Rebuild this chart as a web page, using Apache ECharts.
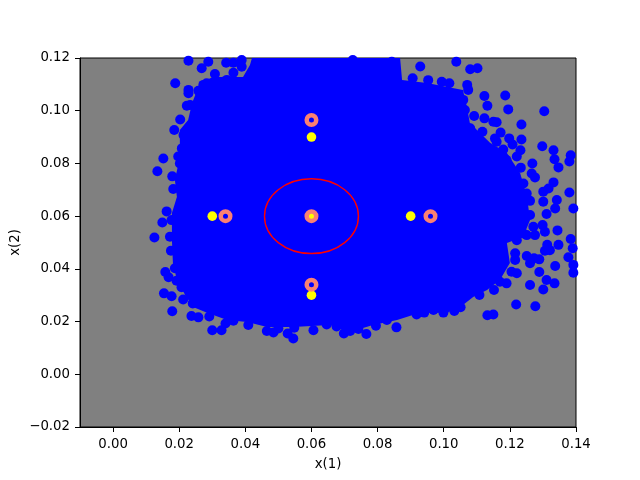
<!DOCTYPE html>
<html>
<head>
<meta charset="utf-8">
<style>html,body{margin:0;padding:0;background:#fff}#c{width:640px;height:480px}</style>
<script src="https://cdn.jsdelivr.net/npm/echarts@6/dist/echarts.min.js"></script>
</head>
<body>
<div id="c"></div>
<script>
var xTicks = [0, 0.02, 0.04, 0.06, 0.08, 0.10, 0.12, 0.14];
var yTicks = [-0.02, 0, 0.02, 0.04, 0.06, 0.08, 0.10, 0.12];
var denseCoreOutline = [
[.0420,.12],[.0868,.12],[.0874,.1117],[.0949,.1105],[.1058,.1079],[.1070,.1014],[.1079,.0953],[.1140,.0878],
[.1191,.0840],[.1231,.0764],[.1252,.0673],[.1261,.0585],[.1240,.0521],[.1191,.0498],[.1200,.0422],[.1170,.0358],
[.1131,.0320],[.1089,.0293],[.1058,.0263],[.1010,.0233],[.0928,.0233],[.0859,.0206],[.0786,.0187],[.0756,.0176],
[.0695,.0168],[.0656,.0187],[.0544,.0179],[.0466,.0179],[.0405,.0198],[.0345,.0206],[.0284,.0233],[.0242,.0255],
[.0218,.0301],[.0193,.0358],[.0181,.0422],[.0178,.0509],[.0178,.0612],[.0193,.0673],[.0187,.0737],[.0202,.0824],
[.0202,.0927],[.0227,.0965],[.0239,.1029],[.0263,.1105],[.0302,.1128],[.0363,.1128],[.0393,.1128],[.0414,.1173]
];
var upperLeftSamples = [
[.0228,.1190],[.0268,.1161],[.0288,.1186],[.0342,.1182],[.0389,.1167],[.0308,.1139],[.0364,.1144],[.0188,.1104],
[.0228,.1079],[.0228,.1066],[.0273,.1098],[.0258,.1076],[.0223,.1019],[.0203,.0967],[.0185,.0927],[.0228,.0933],
[.0213,.0908],[.0258,.0965],[.0208,.0857],[.0197,.0826],[.0152,.0819],[.0134,.0770],[.0179,.0751],[.0182,.0703],
[.0162,.0618],[.0149,.0576],[.0177,.0585],[.0125,.0519],[.0172,.0522],[.0202,.0800],[.0208,.0762],[.0233,.1022],
[.0283,.1104],[.0364,.1182],[.0389,.1192],[.0344,.1117]
];
var upperRightSamples = [
[.0958,.1205],[.0929,.1168],[.1038,.1186],[.1080,.1157],[.1102,.1161],[.0725,.1192],[.0767,.1180],[.0843,.1186],
[.0906,.1123],[.0953,.1116],[.0994,.1110],[.1017,.1104],[.1071,.1098],[.1123,.1056],[.1186,.1058],[.1132,.1019],
[.1195,.1005],[.1304,.0998],[.1092,.0980],[.1123,.0971],[.1150,.0958],[.1160,.0956],[.1235,.0948],[.1172,.0917],
[.1117,.0920],[.1235,.0891],[.1155,.0895],[.1160,.0882],[.1198,.0895],[.1208,.0872],[.1298,.0865],[.1332,.0850],
[.1232,.0850],[.1384,.0831],[.1380,.0807],[.1335,.0816],[.1347,.0785],[.1268,.0800],[.1233,.0784],[.1266,.0762],
[.1276,.0747],[.1332,.0728],[.1317,.0705],[.1301,.0693],[.1380,.0690],[.1342,.0661],[.1337,.0629],[.1392,.0629],
[.1301,.0655],[.1261,.0658],[.1311,.0608],[.1261,.0604],[.1299,.0566],[.1271,.0560],[.1344,.0546],[.1306,.0541],
[.1276,.0528],[.1384,.0513],[.1221,.0826],[.1180,.0853],[.1138,.0848],[.1098,.0851],[.1074,.1079],[.1059,.1041],
[.1064,.1003],[.1044,.0996],[.1080,.0933],[.1100,.0895],[.1251,.0686],[.1231,.0689],[.1241,.0724],[.1190,.0813],
[.1160,.0800],[.1185,.0686],[.1210,.0611],[.1241,.0534],[.1205,.0737]
];
var lowerRightSamples = [
[.1347,.0491],[.1313,.0491],[.1306,.0469],[.1321,.0471],[.1390,.0478],[.1377,.0444],[.1251,.0449],[.1261,.0421],
[.1273,.0440],[.1289,.0436],[.1337,.0411],[.1392,.0415],[.1392,.0385],[.1289,.0388],[.1311,.0358],[.1335,.0345],
[.1261,.0339],[.1301,.0322],[.1221,.0383],[.1205,.0389],[.1216,.0459],[.1216,.0434],[.1190,.0345],[.1170,.0351],
[.1152,.0320],[.1108,.0301],[.1219,.0265],[.1277,.0258],[.1132,.0224],[.1150,.0227],[.1051,.0254],[.1032,.0240],
[.0999,.0234],[.0969,.0244],[.0941,.0234],[.0918,.0227],[.0857,.0178],[.0795,.0184],[.0766,.0153],[.0698,.0155],
[.0717,.0164],[.0742,.0172],[.0676,.0181],[.1221,.0509],[.1251,.0528],[.0828,.0206]
];
var lowerLeftSamples = [
[.0175,.0469],[.0187,.0402],[.0158,.0388],[.0168,.0368],[.0192,.0355],[.0207,.0330],[.0154,.0307],[.0177,.0296],
[.0212,.0284],[.0241,.0269],[.0179,.0239],[.0237,.0221],[.0258,.0216],[.0291,.0219],[.0300,.0167],[.0328,.0167],
[.0340,.0193],[.0364,.0203],[.0409,.0187],[.0465,.0164],[.0485,.0159],[.0500,.0174],[.0528,.0155],[.0545,.0136],
[.0548,.0177],[.0606,.0167],[.0646,.0189]
];
var yellowPoints = [[.03,.06],[.09,.06],[.06,.09],[.06,.03],[.06,.06]];
var salmonRings = [[.034,.06],[.096,.06],[.06,.0965],[.06,.034],[.06,.06]];
var redCircle = [[.06,.06,.0142]];

var blue = '#0000ff';
var textFont = 'DejaVu Sans';
var chart = echarts.init(document.getElementById('c'), null, {renderer: 'canvas'});

function fmt(v) { return v.toFixed(2).replace('-', '\u2212'); }
function axis(name, min, max, ticks, gap, margin, pad) {
  return {
    type: 'value', name: name, nameLocation: 'middle', nameGap: gap, nameMoveOverlap: false,
    nameTextStyle: {color: '#000', fontFamily: textFont, fontSize: 13.3},
    min: min, max: max, splitLine: {show: false},
    axisLine: {show: true, onZero: false, lineStyle: {color: '#000', width: 1}},
    axisTick: {show: true, length: 5, lineStyle: {color: '#000', width: 1}, customValues: ticks},
    axisLabel: {show: true, color: '#000', fontFamily: textFont, fontSize: 13.3, margin: margin, padding: pad,
      customValues: ticks, formatter: fmt, hideOverlap: false, showMinLabel: true, showMaxLabel: true}
  };
}
function scatter(data, size, style, z) {
  return {type: 'scatter', data: data, symbol: 'circle', symbolSize: size, itemStyle: style, z: z,
    silent: true, animation: false, clip: true, progressive: 0, large: false};
}

chart.setOption({
  animation: false,
  backgroundColor: '#fff',
  grid: {left: 80, right: 64, top: 58, bottom: 53, show: true, backgroundColor: '#808080',
    borderColor: '#000', borderWidth: 1, containLabel: false, outerBoundsMode: 'none'},
  xAxis: axis('x(1)', -0.01, 0.14, xTicks, 31, 11, 0),
  yAxis: axis('x(2)', -0.02, 0.12, yTicks, 58, 10, [3, 0, 0, 0]),
  tooltip: {show: false},
  series: [
    {type: 'custom', data: denseCoreOutline, z: 2, silent: true, animation: false, clip: true,
      encode: {x: 0, y: 1},
      renderItem: function (params, api) {
        if (params.dataIndex !== 0) return null;
        return {type: 'polygon',
          shape: {points: denseCoreOutline.map(function (p) { return api.coord(p); })},
          style: {fill: blue}};
      }},
    scatter(upperLeftSamples, 10, {color: blue, opacity: 1}, 3),
    scatter(upperRightSamples, 10, {color: blue, opacity: 1}, 3),
    scatter(lowerRightSamples, 10, {color: blue, opacity: 1}, 3),
    scatter(lowerLeftSamples, 10, {color: blue, opacity: 1}, 3),
    scatter(yellowPoints, 9.6, {color: '#ffff00', opacity: 1}, 4),
    {type: 'custom', data: redCircle, z: 5, silent: true, animation: false,
      encode: {x: 0, y: 1},
      renderItem: function (params, api) {
        var c = api.coord([api.value(0), api.value(1)]);
        var s = api.size([api.value(2), api.value(2)]);
        return {type: 'ellipse', shape: {cx: c[0], cy: c[1], rx: s[0], ry: s[1]},
          style: {fill: null, stroke: '#ff0000', lineWidth: 1.4}};
      }},
    scatter(salmonRings, 9.5, {color: 'rgba(0,0,0,0)', borderColor: '#fa8072', borderWidth: 4.5, opacity: 1}, 6)
  ]
});
</script>
</body>
</html>
